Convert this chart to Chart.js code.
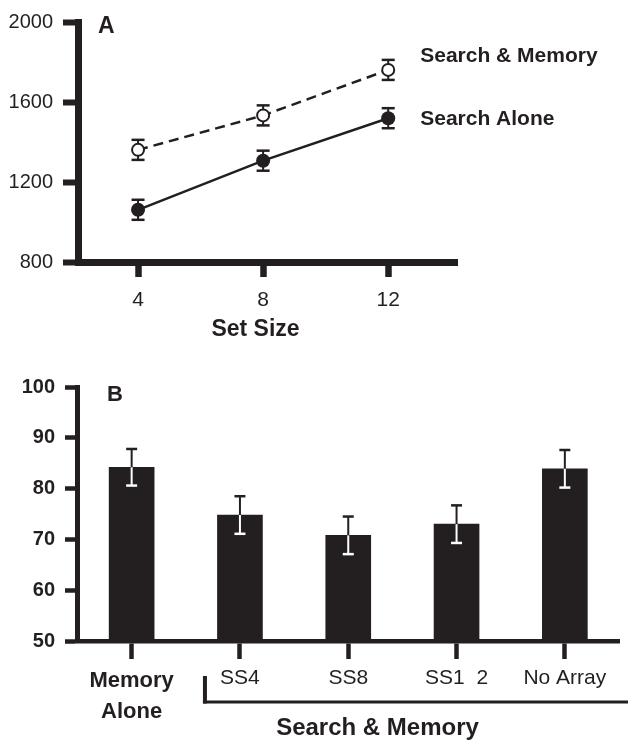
<!DOCTYPE html>
<html>
<head>
<meta charset="utf-8">
<title>Search and memory</title>
<script src="https://cdn.jsdelivr.net/npm/chart.js@4.4.1/dist/chart.umd.min.js"></script>
<style>
  body { margin: 0; background: #fff; }
  #wrap { position: relative; width: 628px; height: 742px; }
  #lineChart { position: absolute; left: 0; top: 0; }
  #barChart { position: absolute; left: 0; top: 350px; }
</style>
</head>
<body>
<div id="wrap">
  <canvas id="lineChart" width="628" height="350"></canvas>
  <canvas id="barChart" width="628" height="392"></canvas>
</div>
<script>
// panel A - response time by set size
var setSizes = [4, 8, 12];
var searchMemory = [1362, 1534, 1761];
var searchMemoryErr = [50, 50, 50];
var searchAlone = [1063, 1308, 1520];
var searchAloneErr = [50, 50, 50];
var rtTicks = [800, 1200, 1600, 2000];

// panel B - memory accuracy
var conditions = [["Memory", "Alone"], "SS4", "SS8", "SS1  2", "No Array"];
var accuracy = [84.2, 74.8, 70.8, 73.0, 83.9];
var accuracyErr = [3.6, 3.7, 3.7, 3.7, 3.7];
var accTicks = [50, 60, 70, 80, 90, 100];

var ink = "#231f20";
var fontFamily = '"Liberation Sans", Arial, Helvetica, sans-serif';
Chart.defaults.font.family = fontFamily;
Chart.defaults.color = ink;

function toPoints(xs, ys) {
  return xs.map(function(x, i) { return {x: x, y: ys[i]}; });
}

function setTicks(values) {
  return function(scale) {
    scale.ticks = values.map(function(v) { return {value: v}; });
  };
}

function plain(v) {
  return String(v);
}

function errorBar(ctx, x, y1, y2, color, width) {
  ctx.save();
  ctx.strokeStyle = color;
  ctx.lineWidth = width;
  ctx.beginPath();
  ctx.moveTo(x, y1);
  ctx.lineTo(x, y2);
  ctx.stroke();
  ctx.restore();
}

function cap(ctx, x, y, half, color, width) {
  ctx.save();
  ctx.strokeStyle = color;
  ctx.lineWidth = width;
  ctx.beginPath();
  ctx.moveTo(x - half, y);
  ctx.lineTo(x + half, y);
  ctx.stroke();
  ctx.restore();
}

function label(ctx, text, x, y, size, align) {
  ctx.save();
  ctx.fillStyle = ink;
  ctx.font = "bold " + size + "px " + fontFamily;
  ctx.textAlign = align || "left";
  ctx.textBaseline = "middle";
  ctx.fillText(text, x, y);
  ctx.restore();
}

var lineExtras = {
  id: "lineExtras",
  beforeDatasetsDraw: function(chart) {
    var ctx = chart.ctx, xs = chart.scales.x, ys = chart.scales.y;
    [[searchMemory, searchMemoryErr], [searchAlone, searchAloneErr]].forEach(function(s) {
      setSizes.forEach(function(sz, i) {
        var x = xs.getPixelForValue(sz);
        var top = ys.getPixelForValue(s[0][i] + s[1][i]);
        var bot = ys.getPixelForValue(s[0][i] - s[1][i]);
        errorBar(ctx, x, top, bot, ink, 2);
        cap(ctx, x, top, 6.5, ink, 2.5);
        cap(ctx, x, bot, 6.5, ink, 2.5);
      });
    });
  },
  afterDraw: function(chart) {
    var ctx = chart.ctx, xs = chart.scales.x, ys = chart.scales.y;
    var last = setSizes.length - 1;
    var lx = xs.getPixelForValue(setSizes[last]) + 32;
    label(ctx, "Search & Memory", lx, ys.getPixelForValue(searchMemory[last]) - 14, 21);
    label(ctx, "Search Alone", lx, ys.getPixelForValue(searchAlone[last]) + 1, 21);
    label(ctx, "A", 98, 27, 23);
    label(ctx, "Set Size", 255.5, 330, 23, "center");
  }
};

var barExtras = {
  id: "barExtras",
  afterDatasetsDraw: function(chart) {
    var ctx = chart.ctx, xs = chart.scales.x, ys = chart.scales.y;
    accuracy.forEach(function(v, i) {
      var x = xs.getPixelForValue(i);
      var mid = ys.getPixelForValue(v);
      var top = ys.getPixelForValue(v + accuracyErr[i]);
      var bot = ys.getPixelForValue(v - accuracyErr[i]);
      errorBar(ctx, x, top, mid, ink, 2);
      errorBar(ctx, x, mid, bot, "#fff", 2);
      cap(ctx, x, top, 5.5, ink, 2.5);
      cap(ctx, x, bot, 5.5, "#fff", 2.5);
    });
  },
  afterDraw: function(chart) {
    var ctx = chart.ctx, xs = chart.scales.x;
    var bx = xs.getPixelForValue(1) - 35;
    ctx.save();
    ctx.strokeStyle = ink;
    ctx.lineWidth = 4;
    ctx.beginPath();
    ctx.moveTo(bx, 326);
    ctx.lineTo(bx, 353.5);
    ctx.stroke();
    ctx.lineWidth = 3;
    ctx.beginPath();
    ctx.moveTo(bx - 2, 352);
    ctx.lineTo(chart.width, 352);
    ctx.stroke();
    ctx.restore();
    label(ctx, "B", 107, 45, 22);
    label(ctx, "Search & Memory", 377.5, 378, 24, "center");
  }
};

new Chart(document.getElementById("lineChart"), {
  type: "line",
  data: {
    datasets: [{
      label: "Search & Memory",
      data: toPoints(setSizes, searchMemory),
      borderColor: ink,
      borderWidth: 2.5,
      borderDash: [10, 6],
      pointRadius: 6,
      pointBackgroundColor: "#fff",
      pointBorderColor: ink,
      pointBorderWidth: 2
    }, {
      label: "Search Alone",
      data: toPoints(setSizes, searchAlone),
      borderColor: ink,
      borderWidth: 2.5,
      pointRadius: 7,
      pointBackgroundColor: ink,
      pointBorderColor: ink,
      pointBorderWidth: 0
    }]
  },
  options: {
    responsive: false,
    animation: false,
    events: [],
    layout: {padding: {top: 18, right: 171, left: 0, bottom: 0}},
    plugins: {legend: {display: false}, tooltip: {enabled: false}},
    scales: {
      x: {
        type: "linear", min: 2.08, max: 14.2,
        afterBuildTicks: setTicks(setSizes),
        afterFit: function(s) { s.height = 87.5; },
        grid: {drawOnChartArea: false, tickLength: 14.5, tickWidth: 6.5, tickColor: ink},
        border: {width: 7, color: ink},
        ticks: {padding: 11, color: ink, font: {size: 21}, callback: plain}
      },
      y: {
        min: 800, max: 2000,
        afterBuildTicks: setTicks(rtTicks),
        afterFit: function(s) { s.width = 78; },
        grid: {drawOnChartArea: false, tickLength: 15, tickWidth: 6, tickColor: ink},
        border: {width: 7, color: ink},
        ticks: {padding: 10, color: ink, font: {size: 20}, callback: plain}
      }
    }
  },
  plugins: [lineExtras]
});

new Chart(document.getElementById("barChart"), {
  type: "bar",
  data: {
    labels: conditions,
    datasets: [{data: accuracy, backgroundColor: ink, barThickness: 45}]
  },
  options: {
    responsive: false,
    animation: false,
    events: [],
    layout: {padding: {top: 37, right: 9, left: 0, bottom: 0}},
    plugins: {legend: {display: false}, tooltip: {enabled: false}},
    scales: {
      x: {
        afterFit: function(s) { s.height = 101; },
        grid: {drawOnChartArea: false, offset: false, tickLength: 18, tickWidth: 4.5, tickColor: ink},
        border: {width: 4.5, color: ink},
        ticks: {
          padding: 6.5, color: ink, autoSkip: false, maxRotation: 0,
          font: function(c) {
            return c.index === 0 ? {size: 22, weight: "bold", lineHeight: 1.4} : {size: 21};
          }
        }
      },
      y: {
        min: 50, max: 100,
        afterBuildTicks: setTicks(accTicks),
        afterFit: function(s) { s.width = 77.5; },
        grid: {drawOnChartArea: false, tickLength: 12.5, tickWidth: 4.5, tickColor: ink},
        border: {width: 5, color: ink},
        ticks: {padding: 10, color: ink, font: {size: 20, weight: "bold"}, callback: plain}
      }
    }
  },
  plugins: [barExtras]
});
</script>
</body>
</html>
